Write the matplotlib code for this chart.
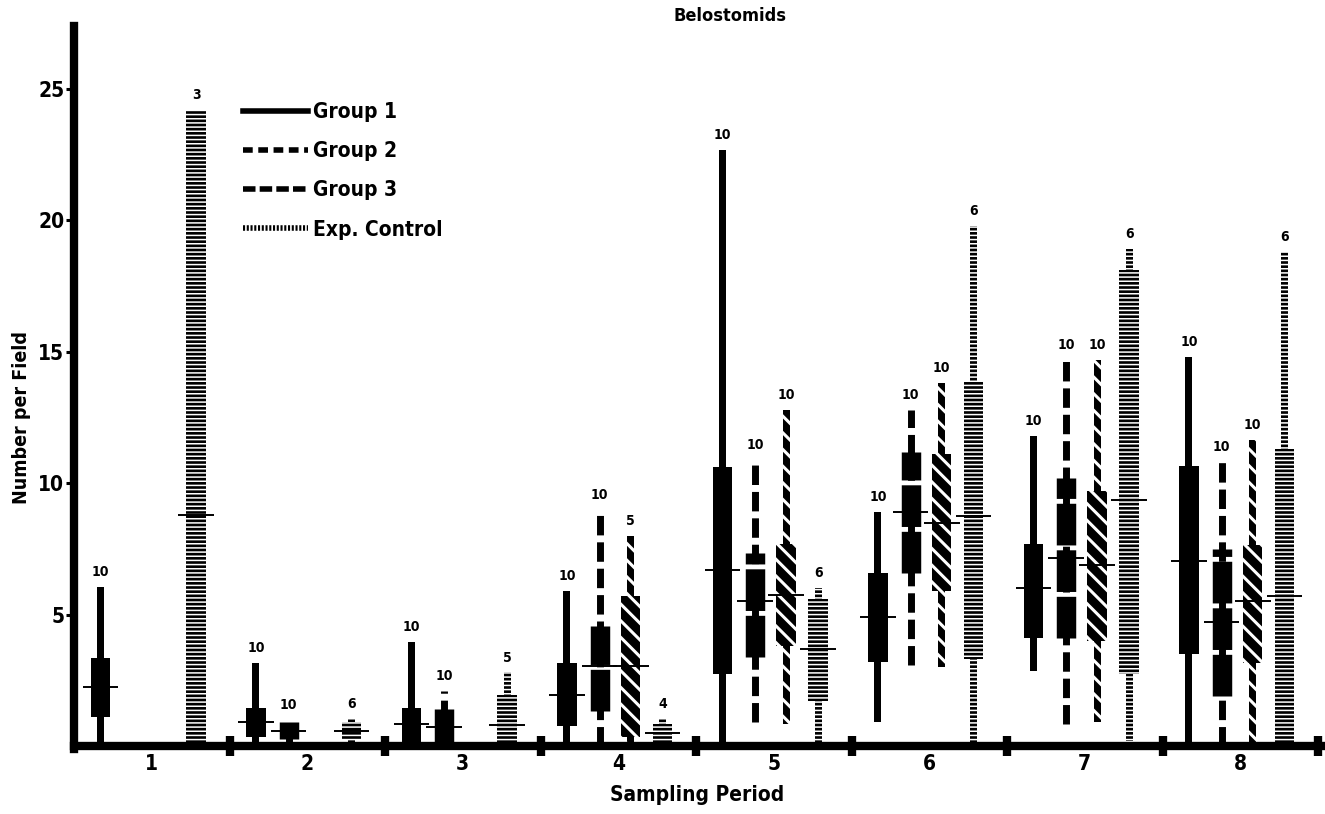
import numpy as np
import matplotlib.pyplot as plt
from matplotlib.lines import Line2D
from matplotlib import font_manager

# font: a narrow bold sans if one is installed
narrow = None
for f in font_manager.fontManager.ttflist:
    nm = f.name
    if ('Narrow' in nm or 'Condensed' in nm or f.stretch == 'condensed') \
            and 'Semi' not in nm and 'Extra' not in nm and 'Mono' not in nm:
        if narrow is None or 'Liberation' in nm:
            narrow = f
if narrow is not None:
    plt.rcParams['font.family'] = [narrow.name, 'DejaVu Sans']
    plt.rcParams['font.stretch'] = narrow.stretch
else:
    plt.rcParams['font.family'] = ['DejaVu Sans']
plt.rcParams['font.weight'] = 'bold'
plt.rcParams['lines.scale_dashes'] = False
plt.rcParams['hatch.linewidth'] = 1.1

## data (None = no sample)
periods = [1, 2, 3, 4, 5, 6, 7, 8]
offsets = [0.17, 0.38, 0.58, 0.785]
series = ['Group 1', 'Group 2', 'Group 3', 'Exp. Control']

g1_max  = [6.05, 3.15, 3.95, 5.9, 22.7, 8.9, 11.8, 14.8]
g1_hi   = [3.35, 1.45, 1.45, 3.15, 10.6, 6.6, 7.7, 10.65]
g1_mean = [2.25, 0.9, 0.85, 1.95, 6.7, 4.9, 6.0, 7.05]
g1_lo   = [1.1, 0.35, 0.0, 0.75, 2.75, 3.2, 4.1, 3.5]
g1_min  = [0, 0, 0, 0, 0, 0.9, 2.85, 0]
g1_n    = [10, 10, 10, 10, 10, 10, 10, 10]

g2_max  = [None, 1.0, 2.1, 9.0, 10.9, 12.8, 14.7, 10.8]
g2_hi   = [None, 0.9, 1.4, 4.55, 7.35, 11.2, 10.2, 7.5]
g2_mean = [None, 0.57, 0.73, 3.05, 5.5, 8.9, 7.15, 4.7]
g2_lo   = [None, 0.25, 0.15, 1.35, 3.4, 6.6, 4.1, 1.9]
g2_min  = [None, 0.1, 0, 0, 0.9, 3.1, 0.85, 0]
g2_n    = [None, 10, 10, 10, 10, 10, 10, 10]

g3_max  = [None, None, None, 8.0, 12.8, 13.8, 14.7, 11.65]
g3_hi   = [None, None, None, 5.7, 7.7, 11.1, 9.7, 7.65]
g3_mean = [None, None, None, 3.05, 5.75, 8.5, 6.9, 5.5]
g3_lo   = [None, None, None, 0.35, 3.8, 5.9, 4.0, 3.15]
g3_min  = [None, None, None, 0, 0.85, 3.0, 0.9, 0]
g3_n    = [None, None, None, 5, 10, 10, 10, 10]

ec_max  = [24.2, 1.05, 2.8, 1.05, 6.0, 19.8, 18.9, 18.8]
ec_hi   = [24.2, 0.9, 1.95, 0.85, 5.6, 13.9, 18.1, 11.3]
ec_mean = [8.8, 0.58, 0.8, 0.5, 3.7, 8.75, 9.35, 5.7]
ec_lo   = [0, 0.25, 0.1, 0.15, 1.7, 3.3, 2.75, 0.1]
ec_min  = [0, 0.1, 0, 0.05, 0, 0, 0.2, 0]
ec_n    = [3, 6, 5, 4, 6, 6, 6, 6]

data = [
    (g1_min, g1_lo, g1_mean, g1_hi, g1_max, g1_n),
    (g2_min, g2_lo, g2_mean, g2_hi, g2_max, g2_n),
    (g3_min, g3_lo, g3_mean, g3_hi, g3_max, g3_n),
    (ec_min, ec_lo, ec_mean, ec_hi, ec_max, ec_n),
]

W_RANGE = 0.045
W_BOX = 0.125
W_MEAN = 0.23

fig = plt.figure(figsize=(13.25, 8.14), dpi=100)
ax = fig.add_axes([74 / 1325, 68 / 814, 1251 / 1325, 720 / 814])


def hbar(x, lo, hi, w, hatch=None, hlw=None):
    b = ax.bar(x, hi - lo, w, bottom=lo, color='black', edgecolor='white',
               linewidth=0, hatch=hatch, zorder=2)
    if hlw is not None:
        for patch in b:
            if hasattr(patch, 'set_hatch_linewidth'):
                patch.set_hatch_linewidth(hlw)
    return b


for s, (mn, lo, me, hi, mx, n) in enumerate(data):
    for i, p in enumerate(periods):
        if mx[i] is None:
            continue
        x = p - 1 + offsets[s]
        if s == 1:
            # dashed group
            ax.vlines(x, mn[i], mx[i], colors='black', linewidth=5.0,
                      linestyles=(0, (14, 5)), zorder=2)
            ax.vlines(x, lo[i], hi[i], colors='black', linewidth=14.0,
                      linestyles=(0, (30, 3.5)), zorder=2)
        elif s == 2:
            hbar(x, mn[i], mx[i], W_RANGE, hatch='\\\\', hlw=2.2)
            hbar(x, lo[i], hi[i], W_BOX, hatch='\\\\', hlw=2.2)
        elif s == 3:
            hbar(x, mn[i], mx[i], W_RANGE, hatch='----', hlw=1.1)
            hbar(x, lo[i], hi[i], W_BOX, hatch='----', hlw=1.1)
        else:
            hbar(x, mn[i], mx[i], W_RANGE)
            hbar(x, lo[i], hi[i], W_BOX)
        ax.hlines(me[i], x - W_MEAN / 2, x + W_MEAN / 2, colors='black',
                  linewidth=1.4, zorder=3)
        ax.text(x, mx[i] + 0.3, str(n[i]), ha='center', va='bottom',
                fontsize=10, fontweight='bold', zorder=4)

ax.set_xlim(0, 8.045)
ax.set_ylim(0, 27.4)

for sp in ['top', 'right']:
    ax.spines[sp].set_visible(False)
for sp in ['left', 'bottom']:
    ax.spines[sp].set_linewidth(6)
    ax.spines[sp].set_zorder(5)
ax.spines['left'].set_bounds(-0.12, 27.4)

ax.set_yticks([5, 10, 15, 20, 25])
ax.tick_params(axis='y', direction='out', length=6, width=2.2, pad=1,
               labelsize=15)
ax.set_xticks(periods)
ax.set_xticklabels([])
ax.set_xticks(np.array(periods) - 0.5, minor=True)
ax.set_xticklabels([str(p) for p in periods], minor=True)
ax.tick_params(axis='x', which='major', direction='inout', length=15,
               width=6)
ax.tick_params(axis='x', which='minor', length=0, pad=6, labelsize=15)
for t in ax.get_yticklabels() + ax.get_xticklabels(minor=True):
    t.set_fontweight('bold')

fig.text(697 / 1325, 1 - 795 / 814, 'Sampling Period', ha='center',
         va='center', fontsize=15, fontweight='bold')
fig.text(22 / 1325, 1 - 417 / 814, 'Number per Field', ha='center',
         va='center', rotation=90, fontsize=14, fontweight='bold')
fig.text(730 / 1325, 1 - 16 / 814, 'Belostomids', ha='center',
         va='center', fontsize=13, fontweight='bold')

handles = [
    Line2D([], [], color='black', linewidth=4),
    Line2D([], [], color='black', linewidth=4, linestyle=(0, (7, 4))),
    Line2D([], [], color='black', linewidth=4, linestyle=(0, (9, 3))),
    Line2D([], [], color='black', linewidth=4, linestyle=(0, (1.5, 1.2))),
]
ax.legend(handles, series, loc='upper left',
          bbox_to_anchor=(243 / 1325, 1 - 102 / 814),
          bbox_transform=fig.transFigure, frameon=False, handlelength=3.1,
          handletextpad=0.25, labelspacing=0.92, borderpad=0,
          borderaxespad=0, prop={'size': 15, 'weight': 'bold'})

fig.savefig('out.png', dpi=100)
